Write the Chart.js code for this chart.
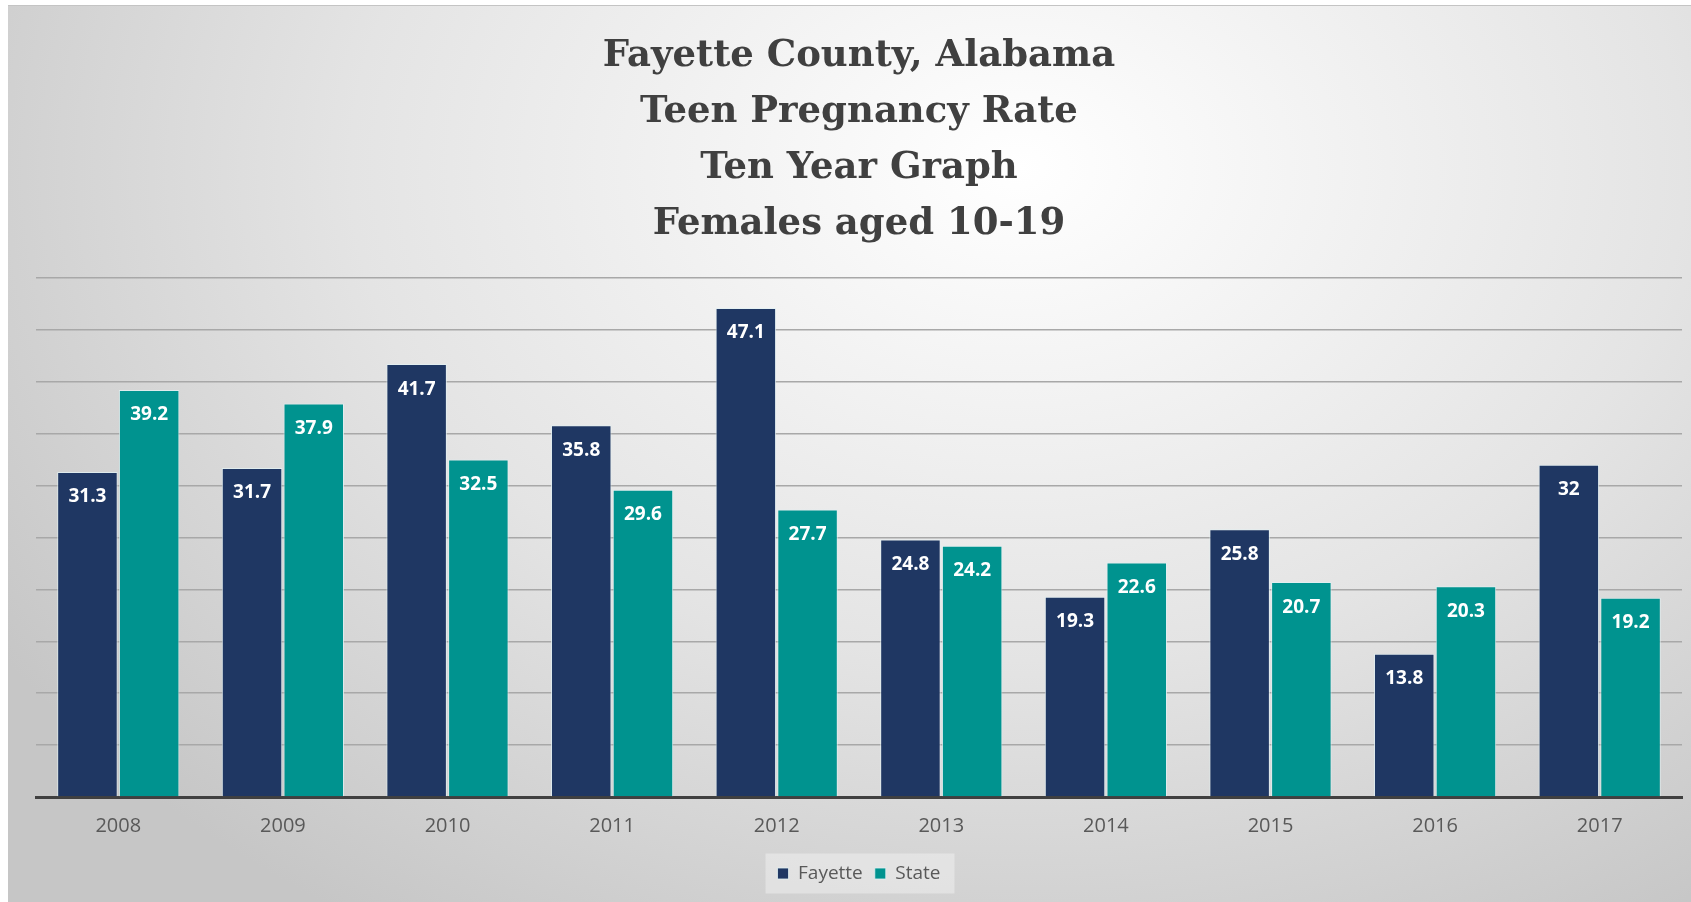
<!DOCTYPE html>
<html lang="en">
<head>
  <meta charset="UTF-8">
  <title>Fayette County Teen Pregnancy Rate</title>
  <script src="https://cdn.jsdelivr.net/npm/chart.js"></script>
  <style>
    body {
      margin: 0;
      background: #ffffff;
      width: 1691px;
      height: 902px;
      overflow: hidden;
    }
    #frame {
      position: absolute;
      left: 8px;
      top: 5px;
      width: 1683px;
      height: 897px;
      background: radial-gradient(ellipse 72% 100% at 60% 18%, #ffffff 0%, #e4e4e4 55%, #c6c6c6 100%);
      border-top: 1px solid #c4c4c4;
    }
  </style>
</head>
<body>
  <div id="frame">
    <canvas id="rateChart"></canvas>
  </div>

  <script>
    const years = ["2008", "2009", "2010", "2011", "2012", "2013", "2014", "2015", "2016", "2017"];
    const fayette = [31.3, 31.7, 41.7, 35.8, 47.1, 24.8, 19.3, 25.8, 13.8, 32];
    const state = [39.2, 37.9, 32.5, 29.6, 27.7, 24.2, 22.6, 20.7, 20.3, 19.2];
    const titleLines = ["Fayette County, Alabama", "Teen Pregnancy Rate", "Ten Year Graph", "Females aged 10-19"];

    // white value labels just inside the top of each bar
    const barLabels = {
      id: "barLabels",
      afterDatasetsDraw(chart) {
        const ctx = chart.ctx;
        ctx.save();
        ctx.fillStyle = "#ffffff";
        ctx.font = "bold 19px 'Open Sans'";
        ctx.textAlign = "center";
        ctx.textBaseline = "middle";
        chart.data.datasets.forEach((ds, i) => {
          chart.getDatasetMeta(i).data.forEach((bar, j) => {
            ctx.fillText(String(ds.data[j]), bar.x, bar.y + 25);
          });
        });
        ctx.restore();
      }
    };

    // faint box behind the legend
    const legendBox = {
      id: "legendBox",
      beforeDraw(chart) {
        const boxes = chart.legend.legendHitBoxes;
        if (!boxes || !boxes.length) return;
        const left = Math.min(...boxes.map(b => b.left)) - 12;
        const right = Math.max(...boxes.map(b => b.left + b.width)) + 14;
        const mid = boxes[0].top + boxes[0].height / 2;
        const ctx = chart.ctx;
        ctx.save();
        ctx.fillStyle = "rgba(255,255,255,0.35)";
        ctx.fillRect(left, mid - 20, right - left, 40);
        ctx.restore();
      }
    };

    new Chart(document.getElementById("rateChart"), {
      type: "bar",
      data: {
        labels: years,
        datasets: [
          {
            label: "Fayette",
            data: fayette,
            backgroundColor: "#1f3763",
            borderColor: "rgba(225,240,242,0.8)",
            borderWidth: 1,
            borderSkipped: "bottom",
            barPercentage: 0.98,
            categoryPercentage: 0.75
          },
          {
            label: "State",
            data: state,
            backgroundColor: "#00938f",
            borderColor: "rgba(225,240,242,0.8)",
            borderWidth: 1,
            borderSkipped: "bottom",
            barPercentage: 0.98,
            categoryPercentage: 0.75
          }
        ]
      },
      options: {
        responsive: true,
        maintainAspectRatio: false,
        animation: false,
        layout: {
          padding: { left: 28, right: 9, top: 22, bottom: 10 }
        },
        plugins: {
          title: {
            display: true,
            text: titleLines,
            color: "#404040",
            font: { family: "'DejaVu Serif'", size: 37, weight: "bold", lineHeight: 1.52 },
            padding: { top: 0, bottom: 25 }
          },
          legend: {
            position: "bottom",
            labels: {
              color: "#595959",
              font: { family: "'Open Sans'", size: 19 },
              boxWidth: 11,
              boxHeight: 11,
              padding: 12
            }
          },
          tooltip: { enabled: false }
        },
        scales: {
          x: {
            grid: { display: false },
            border: { display: true, color: "#404040", width: 3 },
            ticks: {
              color: "#595959",
              font: { family: "'Open Sans'", size: 20 },
              padding: 9
            },
            afterFit(scale) {
              scale.height += 5;
            }
          },
          y: {
            min: 0,
            max: 50,
            ticks: { display: false, stepSize: 5 },
            grid: { color: "#a8a8a8", lineWidth: 1.5, drawTicks: false },
            border: { display: false }
          }
        }
      },
      plugins: [barLabels, legendBox]
    });
  </script>
</body>
</html>
